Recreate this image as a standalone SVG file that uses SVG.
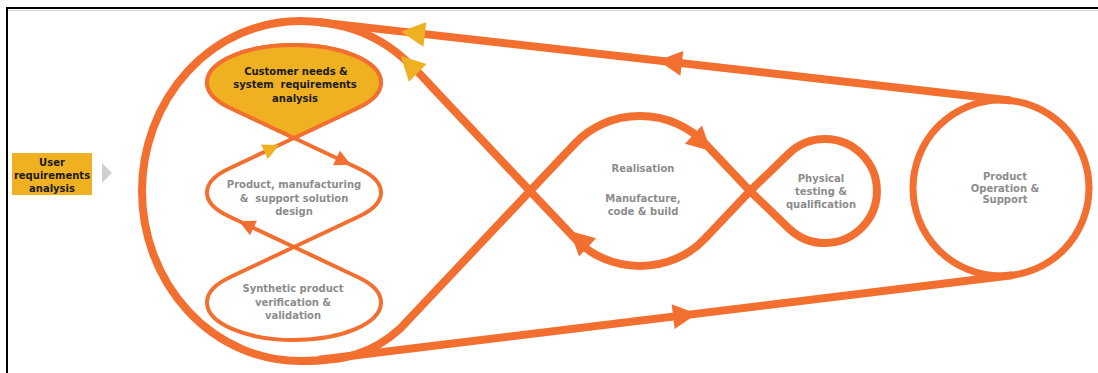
<svg xmlns="http://www.w3.org/2000/svg" xmlns:xlink="http://www.w3.org/1999/xlink" width="1098" height="373" viewBox="0 0 1098 373">
  <style>
    .band { fill: none; stroke: #F26F30; stroke-width: 8; stroke-linejoin: round; }
    .thin { fill: none; stroke: #F26F30; stroke-width: 4; stroke-linejoin: round; }
    .t { font-family: "DejaVu Sans", Verdana, sans-serif; font-weight: bold; font-size: 10px; text-anchor: middle; }
    .dark { fill: #1a1a1a; }
    .gray { fill: #8C8C8C; }
    .orange { fill: #F26F30; }
    .yellow { fill: #EFB122; }
  </style>
  <defs>
    <path id="ah" d="M0,0 L-24,-12.5 L-24,12.5 Z"/>
    <path id="ahs" d="M0,0 L-16,-8 L-16,8 Z"/>
  </defs>
  <rect width="1098" height="373" fill="#ffffff"/>
  <g id="frame">
    <line x1="7" y1="10.5" x2="1098" y2="10.5" stroke="#dddddd" stroke-width="1"/>
    <path d="M7,373 L7,8 L1098,8" fill="none" stroke="#000000" stroke-width="2"/>
  </g>

  <g id="connectors">
    <!-- big loop with realisation lobe and physical lobe -->
    <path class="band" d="M530,191 L575.5,143 A84 75 0 0 1 704.5,143 L750,191 L788.9,228.5 A52 52 0 1 0 788.9,153.5 L750,191 L704.5,239 A84 75 0 0 1 575.5,239 L530,191 L440,95.6 C410,64 380,22 300,21 A158 170 0 0 0 300,361 C345,361 372,354 400,328.8 Z"/>
    <!-- top and bottom belts -->
    <line class="band" x1="316.5" y1="21.9" x2="1010.9" y2="100.5"/>
    <line class="band" x1="318.8" y1="359.8" x2="1012.2" y2="275.3"/>
    <!-- inner figure eight -->
    <path class="thin" d="M294,138 L359.3,168.7 A87 36 0 0 1 359.3,216.3 L294,247 L229.9,277.2 A87 37.5 0 1 0 358.1,277.2 L294,247 L228.7,216.3 A87 36 0 0 1 228.7,168.7 L294,138 L358.1,107.8 A87 37.5 0 1 0 229.9,107.8 Z"/>
    <!-- arrowheads -->
    <use xlink:href="#ah" href="#ah" class="orange" transform="translate(658,60.6) rotate(186.5)"/>
    <use xlink:href="#ah" href="#ah" class="yellow" transform="translate(401,31.7) rotate(186.5)"/>
    <use xlink:href="#ah" href="#ah" class="yellow" transform="translate(400.8,55.9) rotate(225)"/>
    <use xlink:href="#ah" href="#ah" class="orange" transform="translate(697,313.7) rotate(-7)"/>
    <use xlink:href="#ah" href="#ah" class="orange" transform="translate(711,151) rotate(43)"/>
    <use xlink:href="#ah" href="#ah" class="orange" transform="translate(570,231) rotate(223)"/>
    <use xlink:href="#ahs" href="#ahs" class="orange" transform="translate(351,164.8) rotate(25.2)"/>
    <use xlink:href="#ahs" href="#ahs" class="yellow" transform="translate(279,145) rotate(-25.2)"/>
    <use xlink:href="#ahs" href="#ahs" class="orange" transform="translate(239,221.2) rotate(205.2)"/>
  </g>

  <g id="user-requirements">
    <rect x="12" y="153" width="80" height="42" fill="#EFB122"/>
    <text class="t dark" x="52" y="165.5">User</text>
    <text class="t dark" x="52" y="178.5">requirements</text>
    <text class="t dark" x="52" y="191.5">analysis</text>
    <polygon points="102,163 112,173 102,183" fill="#D0D0D0"/>
  </g>

  <g id="customer-needs">
    <path d="M294,138 L358.1,107.8 A87 37.5 0 1 0 229.9,107.8 Z" fill="#EFB122" stroke="#F26F30" stroke-width="4" stroke-linejoin="round"/>
    <text class="t dark" x="296" y="74.5">Customer needs &amp;</text>
    <text class="t dark" x="295" y="88" xml:space="preserve">system  requirements</text>
    <text class="t dark" x="295" y="101.5">analysis</text>
  </g>

  <g id="solution-design">
    <text class="t gray" x="294" y="188">Product, manufacturing</text>
    <text class="t gray" x="294" y="201.5" xml:space="preserve">&amp;  support solution</text>
    <text class="t gray" x="294" y="215">design</text>
  </g>

  <g id="synthetic-verification">
    <text class="t gray" x="293" y="291.5">Synthetic product</text>
    <text class="t gray" x="293" y="305.5">verification &amp;</text>
    <text class="t gray" x="293" y="318.5">validation</text>
  </g>

  <g id="realisation">
    <text class="t gray" x="643" y="172">Realisation</text>
    <text class="t gray" x="643" y="201.5">Manufacture,</text>
    <text class="t gray" x="643" y="214.5">code &amp; build</text>
  </g>

  <g id="physical-testing">
    <text class="t gray" x="821" y="181.5">Physical</text>
    <text class="t gray" x="821" y="194.5">testing &amp;</text>
    <text class="t gray" x="821" y="207.5">qualification</text>
  </g>

  <g id="product-operation">
    <circle cx="1001" cy="188" r="88" fill="none" stroke="#F26F30" stroke-width="7"/>
    <text class="t gray" x="1005" y="179.5">Product</text>
    <text class="t gray" x="1005" y="191.5">Operation &amp;</text>
    <text class="t gray" x="1005" y="203">Support</text>
  </g>
</svg>
